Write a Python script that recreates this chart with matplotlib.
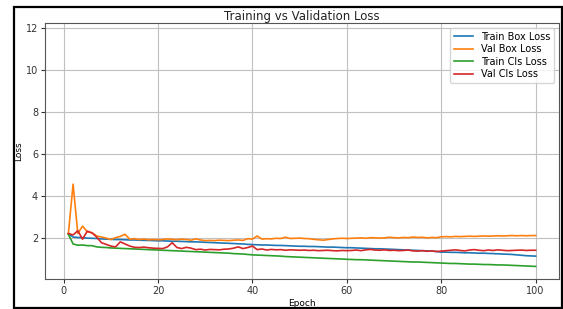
import matplotlib
matplotlib.use("Agg")
import matplotlib.pyplot as plt
from matplotlib.patches import Rectangle

epochs = list(range(1, 101))

train_box = [2.20, 2.05, 2.03, 2.02, 2.00, 1.99, 1.98, 1.96, 1.95, 1.94,
             1.93, 1.93, 1.92, 1.91, 1.91, 1.90, 1.89, 1.89, 1.88, 1.87,
             1.87, 1.86, 1.85, 1.85, 1.84, 1.83, 1.82, 1.82, 1.81, 1.80,
             1.79, 1.78, 1.77, 1.76, 1.75, 1.74, 1.73, 1.72, 1.70, 1.69,
             1.68, 1.67, 1.67, 1.66, 1.65, 1.65, 1.64, 1.63, 1.62, 1.61,
             1.61, 1.60, 1.60, 1.59, 1.58, 1.57, 1.57, 1.56, 1.55, 1.54,
             1.54, 1.53, 1.52, 1.51, 1.50, 1.49, 1.49, 1.48, 1.47, 1.46,
             1.45, 1.44, 1.43, 1.42, 1.41, 1.40, 1.39, 1.38, 1.36, 1.33,
             1.33, 1.32, 1.32, 1.31, 1.30, 1.30, 1.29, 1.28, 1.28, 1.27,
             1.26, 1.25, 1.24, 1.23, 1.22, 1.20, 1.18, 1.16, 1.15, 1.14]

val_box = [2.20, 4.57, 2.22, 2.57, 2.30, 2.25, 2.10, 2.05, 2.00, 1.93,
           2.02, 2.08, 2.18, 1.95, 1.97, 1.93, 1.95, 1.92, 1.93, 1.92,
           1.93, 1.96, 1.94, 1.92, 1.95, 1.93, 1.90, 1.96, 1.91, 1.88,
           1.89, 1.88, 1.90, 1.89, 1.88, 1.90, 1.91, 1.89, 1.97, 1.95,
           2.10, 1.95, 1.97, 1.96, 1.99, 1.98, 2.04, 1.98, 1.99, 2.00,
           1.98, 1.97, 1.94, 1.92, 1.90, 1.93, 1.96, 1.98, 1.99, 1.98,
           1.99, 2.00, 2.01, 1.99, 2.02, 2.01, 2.00, 2.01, 2.04, 2.02,
           2.01, 2.03, 2.02, 2.05, 2.03, 2.04, 2.01, 2.03, 2.02, 2.06,
           2.07, 2.06, 2.08, 2.07, 2.08, 2.09, 2.08, 2.09, 2.10, 2.09,
           2.10, 2.11, 2.10, 2.11, 2.12, 2.11, 2.12, 2.11, 2.12, 2.12]

train_cls = [2.18, 1.72, 1.66, 1.67, 1.64, 1.64, 1.58, 1.56, 1.55, 1.53,
             1.52, 1.51, 1.50, 1.49, 1.48, 1.47, 1.46, 1.45, 1.44, 1.43,
             1.42, 1.41, 1.40, 1.39, 1.38, 1.37, 1.36, 1.35, 1.34, 1.33,
             1.32, 1.31, 1.30, 1.29, 1.28, 1.26, 1.25, 1.24, 1.22, 1.20,
             1.19, 1.18, 1.17, 1.16, 1.15, 1.14, 1.12, 1.11, 1.10, 1.09,
             1.08, 1.07, 1.06, 1.05, 1.04, 1.03, 1.02, 1.01, 1.00, 0.99,
             0.98, 0.97, 0.97, 0.96, 0.95, 0.94, 0.93, 0.92, 0.91, 0.90,
             0.89, 0.88, 0.87, 0.86, 0.86, 0.85, 0.84, 0.83, 0.82, 0.81,
             0.80, 0.79, 0.79, 0.78, 0.77, 0.76, 0.76, 0.75, 0.74, 0.74,
             0.73, 0.72, 0.72, 0.71, 0.70, 0.69, 0.68, 0.67, 0.66, 0.65]

val_cls = [2.22, 2.15, 2.35, 1.95, 2.33, 2.25, 2.05, 1.78, 1.70, 1.62,
           1.58, 1.82, 1.72, 1.62, 1.56, 1.55, 1.57, 1.54, 1.52, 1.51,
           1.50, 1.58, 1.78, 1.55, 1.50, 1.56, 1.52, 1.45, 1.47, 1.43,
           1.46, 1.45, 1.44, 1.47, 1.48, 1.52, 1.58, 1.50, 1.55, 1.62,
           1.45, 1.48, 1.43, 1.46, 1.44, 1.45, 1.42, 1.44, 1.43, 1.42,
           1.43, 1.41, 1.42, 1.40, 1.41, 1.42, 1.40, 1.39, 1.41, 1.40,
           1.41, 1.43, 1.40, 1.44, 1.46, 1.43, 1.42, 1.44, 1.41, 1.42,
           1.40, 1.41, 1.43, 1.39, 1.38, 1.40, 1.37, 1.39, 1.36, 1.38,
           1.40, 1.42, 1.44, 1.41, 1.39, 1.43, 1.45, 1.42, 1.40, 1.43,
           1.41, 1.44, 1.42, 1.40, 1.41, 1.42, 1.43, 1.41, 1.42, 1.42]

series = [("Train Box Loss", train_box, "#1f77b4"),
          ("Val Box Loss", val_box, "#ff7f0e"),
          ("Train Cls Loss", train_cls, "#2ca02c"),
          ("Val Cls Loss", val_cls, "#d62728")]

fig = plt.figure(figsize=(5.63, 3.09), dpi=100)
ax = fig.add_axes([45/563, 1-279/309, (559-45)/563, (279-23)/309])
for label, vals, color in series:
    ax.plot(epochs, vals, label=label, color=color, linewidth=1.2)

ax.set_ylim(0.05, 12.25)
ax.set_yticks([2, 4, 6, 8, 10, 12])
ax.set_xticks([0, 20, 40, 60, 80, 100])
ax.tick_params(labelsize=7, length=3, pad=2, colors="#333333")
ax.grid(True, color="#c0c0c0", linewidth=0.8)
ax.set_title("Training vs Validation Loss", fontsize=8.5, pad=2, color="#222222")
ax.set_xlabel("Epoch", fontsize=6.5, labelpad=2)
ax.set_ylabel("Loss", fontsize=6.5, labelpad=2)
ax.legend(loc="upper right", fontsize=7, handlelength=2.0, borderaxespad=0.5,
          labelspacing=0.25)
for s in ax.spines.values():
    s.set_color("#555555")

fig.patches.append(Rectangle((13.5/563, 1-307.5/309), (561.5-13.5)/563, (307.5-6.5)/309,
                             transform=fig.transFigure, fill=False,
                             edgecolor="black", linewidth=1.6, zorder=10))
fig.savefig("out.png", dpi=100)
